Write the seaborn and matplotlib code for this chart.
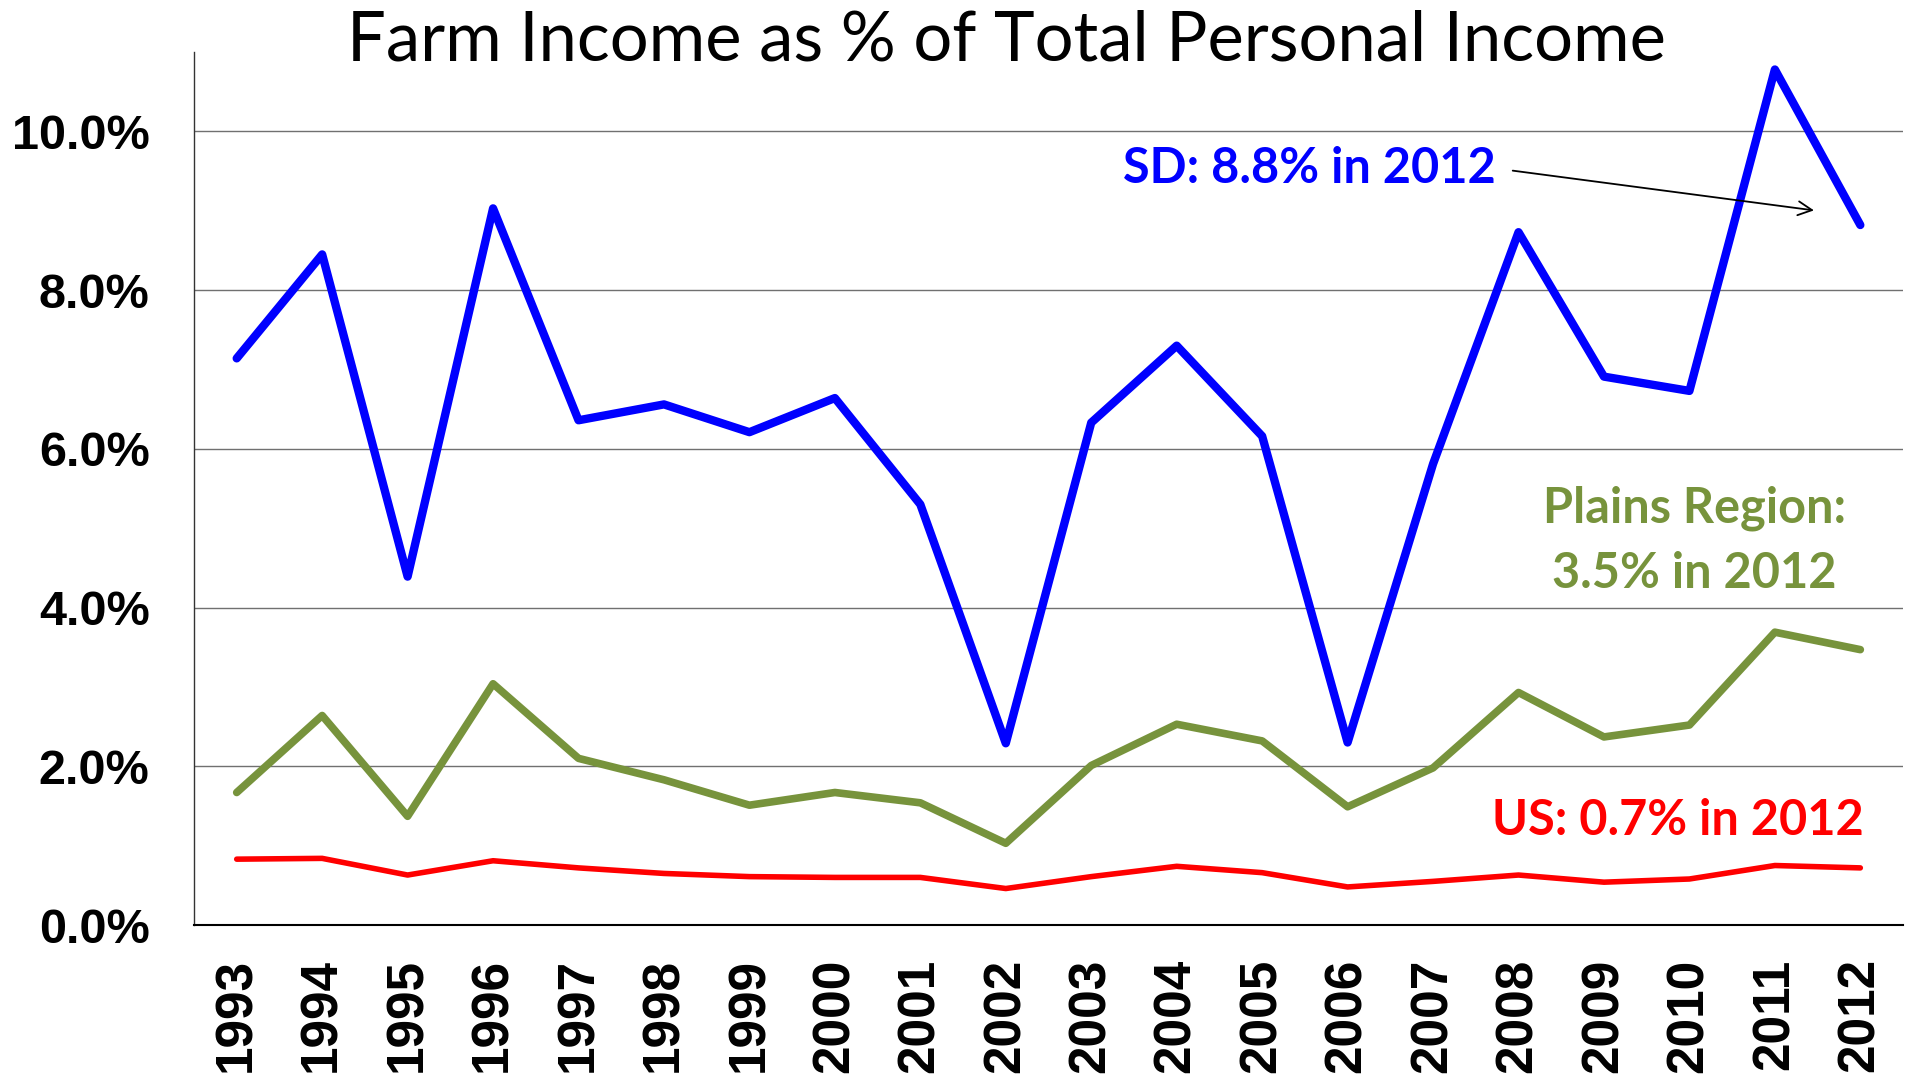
import numpy as np
import pandas as pd
import matplotlib
matplotlib.use("Agg")
import matplotlib.pyplot as plt
import seaborn as sns

# Datos (porcentaje del ingreso personal total)
years = list(range(1993, 2013))
sd_pct = [7.14, 8.45, 4.39, 9.03, 6.36, 6.56, 6.21, 6.64, 5.30, 2.29,
          6.33, 7.30, 6.16, 2.30, 5.81, 8.73, 6.91, 6.73, 10.78, 8.82]
plains_pct = [1.67, 2.64, 1.37, 3.04, 2.10, 1.83, 1.51, 1.67, 1.54, 1.03,
              2.01, 2.53, 2.32, 1.49, 1.98, 2.93, 2.37, 2.52, 3.69, 3.47]
us_pct = [0.83, 0.84, 0.63, 0.81, 0.72, 0.65, 0.61, 0.60, 0.60, 0.46,
          0.61, 0.74, 0.66, 0.48, 0.55, 0.63, 0.54, 0.58, 0.75, 0.72]
y_ticks = [0, 2, 4, 6, 8, 10]

sns.set_style("white")
plt.rcParams['font.family'] = ['Liberation Sans', 'DejaVu Sans']
plt.rcParams['text.color'] = 'black'
plt.rcParams['xtick.color'] = 'black'
plt.rcParams['ytick.color'] = 'black'

fig = plt.figure(figsize=(19.13, 10.77), dpi=100)
ax = fig.add_axes([0.1014, 0.1411, 0.8934, 0.8106])

df = pd.DataFrame({'year': years, 'SD': sd_pct, 'Plains': plains_pct, 'US': us_pct})

# Series
sns.lineplot(data=df, x='year', y='US', color='#FF0000', linewidth=4, ax=ax,
             solid_capstyle='round', solid_joinstyle='round')
sns.lineplot(data=df, x='year', y='Plains', color='#77933C', linewidth=5.5, ax=ax,
             solid_capstyle='round', solid_joinstyle='round')
sns.lineplot(data=df, x='year', y='SD', color='#0000FF', linewidth=6, ax=ax,
             solid_capstyle='round', solid_joinstyle='round')

ax.set_xlim(years[0] - 0.5, years[-1] + 0.5)
ax.set_ylim(0, 11)
ax.set_xlabel('')
ax.set_ylabel('')

# Ejes
ax.set_yticks(y_ticks)
ax.set_yticklabels([f'{v:.1f}%' for v in y_ticks], fontsize=35, fontweight='bold')
ax.set_xticks(years)
ax.set_xticklabels([str(y) for y in years], rotation=90, fontsize=37, fontweight='bold')
ax.set_xticks(np.arange(years[0] - 0.5, years[-1] + 1.0, 1.0), minor=True)
ax.tick_params(axis='x', which='major', length=0, pad=24, labelcolor='black')
ax.tick_params(axis='x', which='minor', length=11.5, width=1, color='#888888', direction='out')
ax.tick_params(axis='y', which='major', length=11, width=1, color='#555555', direction='out',
               pad=21, labelcolor='black')

ax.yaxis.grid(True, color='#707070', linewidth=1)
ax.xaxis.grid(False)
ax.set_axisbelow(True)
for s in ['top', 'right']:
    ax.spines[s].set_visible(False)
ax.spines['left'].set_color('#333333')
ax.spines['left'].set_linewidth(1)
ax.spines['bottom'].set_color('black')
ax.spines['bottom'].set_linewidth(1.5)

# Título
fig.text(0.526, 0.944, 'Farm Income as % of Total Personal Income', color='black',
         ha='center', va='baseline', fontsize=49.5, family=['Lato', 'DejaVu Sans'])

# Anotaciones
ann_font = ['Lato', 'DejaVu Sans']
ax.text(2005.55, 9.35, 'SD: 8.8% in 2012', color='#0000FF', fontsize=35,
        fontweight='bold', ha='center', va='baseline', family=ann_font)
ax.annotate('', xy=(2011.49, 9.00), xytext=(2007.90, 9.51),
            arrowprops=dict(arrowstyle='->', color='black', lw=1.3,
                            mutation_scale=25))
ax.text(2010.06, 5.07, 'Plains Region:', color='#77933C', fontsize=35,
        fontweight='bold', ha='center', va='baseline', family=ann_font)
ax.text(2010.06, 4.25, '3.5% in 2012', color='#77933C', fontsize=35,
        fontweight='bold', ha='center', va='baseline', family=ann_font)
ax.text(2009.87, 1.13, 'US: 0.7% in 2012', color='#FF0000', fontsize=35,
        fontweight='bold', ha='center', va='baseline', family=ann_font)

fig.savefig('out.png', dpi=100)
